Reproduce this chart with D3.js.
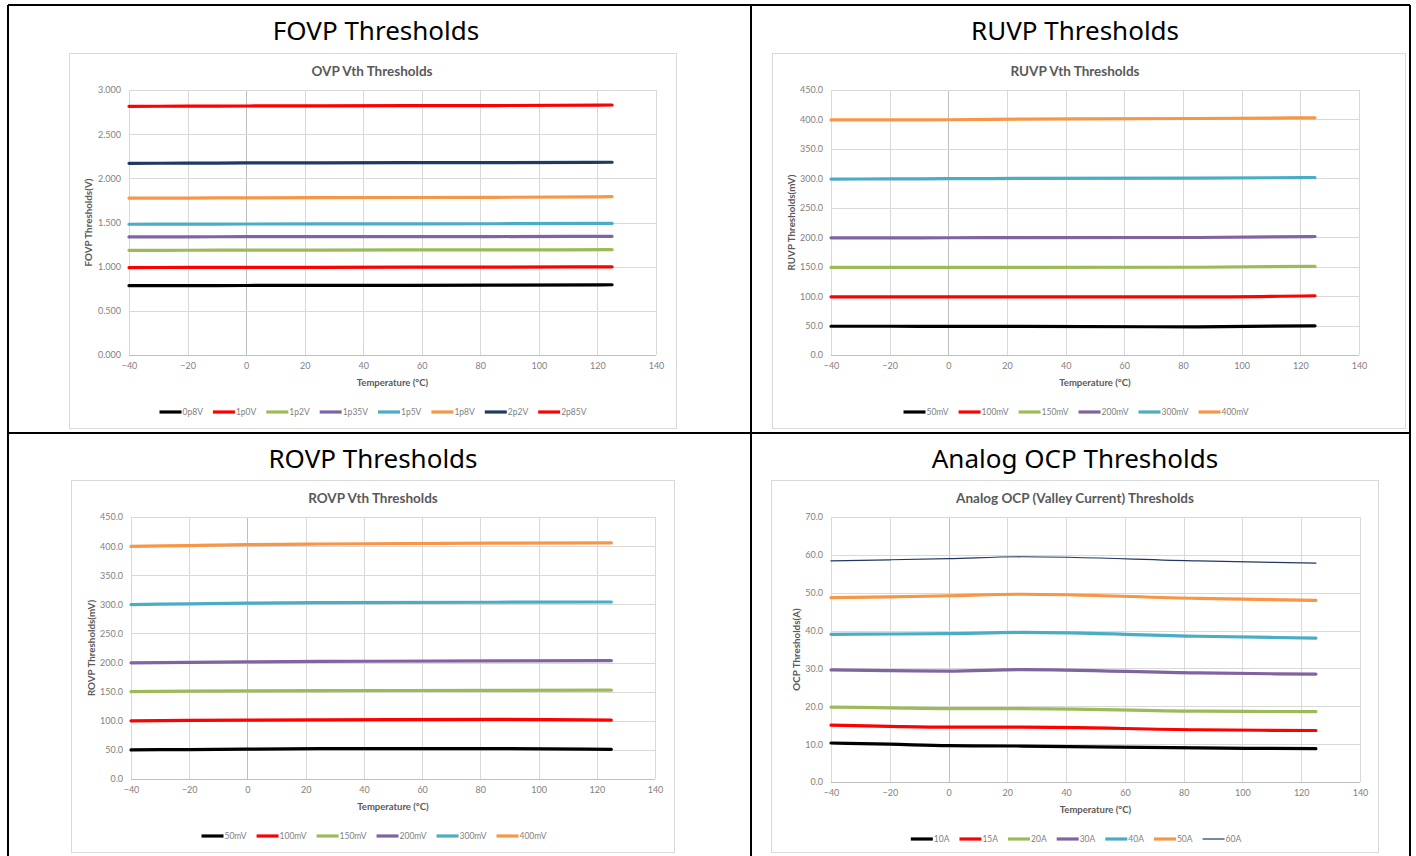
<!DOCTYPE html>
<html>
<head>
<meta charset="utf-8">
<script src="https://cdn.jsdelivr.net/npm/d3@7"></script>
<style>
  body { margin: 0; background: #fff; }
  svg text { font-family: "Lato", "Open Sans", sans-serif; }
  .cell-title { font-family: "Noto Sans", sans-serif !important; }
</style>
</head>
<body>
<svg id="page" width="1416" height="856"></svg>
<script>
// temperatures where each threshold was measured
const temps = [-40, -20, 0, 25, 85, 125];
const xTicks = [-40, -20, 0, 20, 40, 60, 80, 100, 120, 140];

// FOVP (V)
const fovpNames = ["0p8V", "1p0V", "1p2V", "1p35V", "1p5V", "1p8V", "2p2V", "2p85V"];
const fovpColors = ["#000000", "#ff0000", "#9bbb59", "#8064a2", "#4bacc6", "#f79646", "#1f3864", "#ff0000"];
const fovpValues = [
  [0.785, 0.786, 0.787, 0.788, 0.790, 0.795],
  [0.990, 0.991, 0.992, 0.993, 0.995, 0.998],
  [1.185, 1.186, 1.187, 1.188, 1.190, 1.192],
  [1.337, 1.338, 1.339, 1.340, 1.341, 1.343],
  [1.480, 1.482, 1.483, 1.484, 1.486, 1.490],
  [1.775, 1.777, 1.779, 1.781, 1.785, 1.792],
  [2.170, 2.172, 2.174, 2.176, 2.178, 2.182],
  [2.815, 2.817, 2.819, 2.821, 2.824, 2.830]
];
const fovpTicks = [0, 0.5, 1, 1.5, 2, 2.5, 3];

// RUVP (mV)
const ruvpNames = ["50mV", "100mV", "150mV", "200mV", "300mV", "400mV"];
const ruvpColors = ["#000000", "#ff0000", "#9bbb59", "#8064a2", "#4bacc6", "#f79646"];
const ruvpValues = [
  [48.8, 48.8, 48.7, 48.5, 47.9, 49.6],
  [98.8, 98.7, 98.6, 98.6, 98.6, 100.6],
  [148.7, 148.7, 148.8, 148.8, 149.0, 150.5],
  [199.0, 199.0, 199.1, 199.2, 199.5, 201.2],
  [298.8, 299.0, 299.4, 299.8, 300.3, 301.4],
  [399.2, 399.3, 399.5, 400.6, 401.6, 402.8]
];
const ruvpTicks = [0, 50, 100, 150, 200, 250, 300, 350, 400, 450];

// ROVP (mV)
const rovpNames = ["50mV", "100mV", "150mV", "200mV", "300mV", "400mV"];
const rovpColors = ruvpColors;
const rovpValues = [
  [50.0, 50.6, 51.2, 52.0, 52.3, 51.0],
  [100.0, 100.6, 101.2, 101.6, 102.5, 101.2],
  [150.2, 150.8, 151.3, 151.7, 152.3, 152.6],
  [199.6, 200.4, 201.2, 201.9, 202.8, 203.3],
  [299.6, 300.8, 302.0, 302.8, 303.6, 304.0],
  [399.5, 401.0, 402.6, 403.6, 405.0, 405.6]
];
const rovpTicks = ruvpTicks;

// Analog OCP valley current (A)
const ocpNames = ["10A", "15A", "20A", "30A", "40A", "50A", "60A"];
const ocpColors = ["#000000", "#ff0000", "#9bbb59", "#8064a2", "#4bacc6", "#f79646", "#1f3864"];
const ocpValues = [
  [10.3, 10.0, 9.6, 9.5, 9.0, 8.8],
  [15.0, 14.7, 14.5, 14.5, 13.8, 13.6],
  [19.8, 19.6, 19.4, 19.4, 18.7, 18.6],
  [29.6, 29.4, 29.3, 29.7, 28.8, 28.5],
  [39.0, 39.1, 39.2, 39.5, 38.5, 38.0],
  [48.7, 48.9, 49.2, 49.6, 48.5, 48.0],
  [58.4, 58.7, 59.0, 59.5, 58.4, 57.8]
];
const ocpTicks = [0, 10, 20, 30, 40, 50, 60, 70];

const svg = d3.select("#page");

// outer table with cell titles
const grid = svg.append("g").attr("stroke", "#000").attr("stroke-width", 2);
grid.append("line").attr("x1", 8).attr("x2", 8).attr("y1", 5).attr("y2", 856);
grid.append("line").attr("x1", 1410).attr("x2", 1410).attr("y1", 5).attr("y2", 856);
grid.append("line").attr("x1", 751).attr("x2", 751).attr("y1", 5).attr("y2", 856);
grid.append("line").attr("x1", 8).attr("x2", 1410).attr("y1", 5).attr("y2", 5);
grid.append("line").attr("x1", 8).attr("x2", 1410).attr("y1", 433).attr("y2", 433);

const cellTitles = [
  { text: "FOVP Thresholds", x: 376, y: 31 },
  { text: "RUVP Thresholds", x: 1075, y: 31 },
  { text: "ROVP Thresholds", x: 373, y: 459 },
  { text: "Analog OCP Thresholds", x: 1075, y: 459 }
];
svg.selectAll(".cell-title")
  .data(cellTitles)
  .enter()
  .append("text")
  .attr("class", "cell-title")
  .attr("x", d => d.x)
  .attr("y", d => d.y)
  .attr("dy", "0.35em")
  .attr("text-anchor", "middle")
  .style("font-size", "26px")
  .attr("fill", "#000")
  .text(d => d.text);

function drawChart(opts) {
  const g = svg.append("g");
  const f = opts.frame;

  // chart area border
  g.append("rect")
    .attr("x", f[0] + 0.5).attr("y", f[1] + 0.5)
    .attr("width", f[2] - f[0]).attr("height", f[3] - f[1])
    .attr("fill", "#fff")
    .attr("stroke", "#d9d9d9");

  const x = d3.scaleLinear().domain([-40, 140]).range([opts.plot.left, opts.plot.right]);
  const y = d3.scaleLinear().domain([0, d3.max(opts.yTicks)]).range([opts.plot.bottom, opts.plot.top]);

  // gridlines
  g.append("g")
    .selectAll("line.v")
    .data(xTicks)
    .enter()
    .append("line")
    .attr("x1", d => Math.round(x(d)) + 0.5).attr("x2", d => Math.round(x(d)) + 0.5)
    .attr("y1", opts.plot.top).attr("y2", opts.plot.bottom)
    .attr("stroke", d => d === 0 ? "#bfbfbf" : "#d9d9d9");

  g.append("g")
    .selectAll("line.h")
    .data(opts.yTicks)
    .enter()
    .append("line")
    .attr("x1", opts.plot.left).attr("x2", opts.plot.right)
    .attr("y1", d => Math.round(y(d)) + 0.5).attr("y2", d => Math.round(y(d)) + 0.5)
    .attr("stroke", d => d === 0 ? "#bfbfbf" : "#d9d9d9");

  // axes (labels only, Excel style)
  const xAxis = g.append("g")
    .attr("transform", `translate(0,${opts.plot.bottom + 5})`)
    .call(d3.axisBottom(x).tickValues(xTicks).tickSize(0).tickPadding(3).tickFormat(d3.format("d")));
  xAxis.select(".domain").remove();

  const yAxis = g.append("g")
    .attr("transform", `translate(${opts.plot.left - 6},0)`)
    .call(d3.axisLeft(y).tickValues(opts.yTicks).tickSize(0).tickPadding(2).tickFormat(d3.format(opts.yFormat)));
  yAxis.select(".domain").remove();

  g.selectAll(".tick text")
    .attr("fill", "#7f7f7f")
    .style("font-size", "9px")
    .style("font-family", "Lato, sans-serif");

  // titles
  g.append("text")
    .attr("x", opts.titleX)
    .attr("y", f[1] + 18)
    .attr("dy", "0.35em")
    .attr("text-anchor", "middle")
    .attr("fill", "#595959")
    .style("font-size", "13.5px")
    .style("font-weight", "bold")
    .text(opts.title);

  g.append("text")
    .attr("x", (opts.plot.left + opts.plot.right) / 2)
    .attr("y", opts.plot.bottom + 28)
    .attr("dy", "0.35em")
    .attr("text-anchor", "middle")
    .attr("fill", "#595959")
    .style("font-size", "9.5px")
    .style("font-weight", "bold")
    .text("Temperature (°C)");

  g.append("text")
    .attr("transform", `translate(${opts.yLabelX},${(opts.plot.top + opts.plot.bottom) / 2}) rotate(-90)`)
    .attr("dy", "0.35em")
    .attr("text-anchor", "middle")
    .attr("fill", "#595959")
    .style("font-size", "9.8px")
    .style("font-weight", "bold")
    .text(opts.yLabel);

  // series lines
  const line = d3.line()
    .x((d, i) => x(temps[i]))
    .y(d => y(d))
    .curve(d3.curveMonotoneX);

  opts.values.forEach((vals, i) => {
    g.append("path")
      .datum(vals)
      .attr("d", line)
      .attr("fill", "none")
      .attr("stroke", opts.colors[i])
      .attr("stroke-width", opts.widths ? opts.widths[i] : 3.2)
      .attr("stroke-linecap", "round");
  });

  // legend
  const legend = g.append("g");
  let cx = 0;
  opts.names.forEach((name, i) => {
    const item = legend.append("g").attr("transform", `translate(${cx},0)`);
    item.append("line")
      .attr("x1", 0).attr("x2", 22)
      .attr("y1", 0).attr("y2", 0)
      .attr("stroke", opts.colors[i])
      .attr("stroke-width", opts.widths ? opts.widths[i] : 3.2);
    const t = item.append("text")
      .attr("x", 23)
      .attr("dy", "0.35em")
      .attr("fill", "#7f7f7f")
      .style("font-size", "8.5px")
      .text(name);
    cx += 23 + t.node().getComputedTextLength() + 10;
  });
  const legendWidth = cx - 10;
  legend.attr("transform", `translate(${opts.legendCenter - legendWidth / 2},${opts.legendY})`);
}

drawChart({
  frame: [69, 53, 676, 428],
  plot: { left: 129, right: 656, top: 90, bottom: 355 },
  title: "OVP Vth Thresholds", titleX: 372,
  yLabel: "FOVP Thresholds(V)", yLabelX: 89,
  yTicks: fovpTicks, yFormat: ".3f",
  names: fovpNames, colors: fovpColors, values: fovpValues,
  legendCenter: 373, legendY: 412
});

drawChart({
  frame: [772, 53, 1405, 428],
  plot: { left: 831, right: 1359, top: 90, bottom: 355 },
  title: "RUVP Vth Thresholds", titleX: 1075,
  yLabel: "RUVP Thresholds(mV)", yLabelX: 792,
  yTicks: ruvpTicks, yFormat: ".1f",
  names: ruvpNames, colors: ruvpColors, values: ruvpValues,
  legendCenter: 1076, legendY: 412
});

drawChart({
  frame: [71, 480, 674, 852],
  plot: { left: 131, right: 655, top: 517, bottom: 779 },
  title: "ROVP Vth Thresholds", titleX: 373,
  yLabel: "ROVP Thresholds(mV)", yLabelX: 92,
  yTicks: rovpTicks, yFormat: ".1f",
  names: rovpNames, colors: rovpColors, values: rovpValues,
  legendCenter: 374, legendY: 836
});

drawChart({
  frame: [771, 480, 1378, 852],
  plot: { left: 831, right: 1360, top: 517, bottom: 782 },
  title: "Analog OCP (Valley Current) Thresholds", titleX: 1075,
  yLabel: "OCP Thresholds(A)", yLabelX: 797,
  yTicks: ocpTicks, yFormat: ".1f",
  names: ocpNames, colors: ocpColors, values: ocpValues,
  widths: [3.2, 3.2, 3.2, 3.2, 3.2, 3.2, 1.2],
  legendCenter: 1076, legendY: 839
});
</script>
</body>
</html>
